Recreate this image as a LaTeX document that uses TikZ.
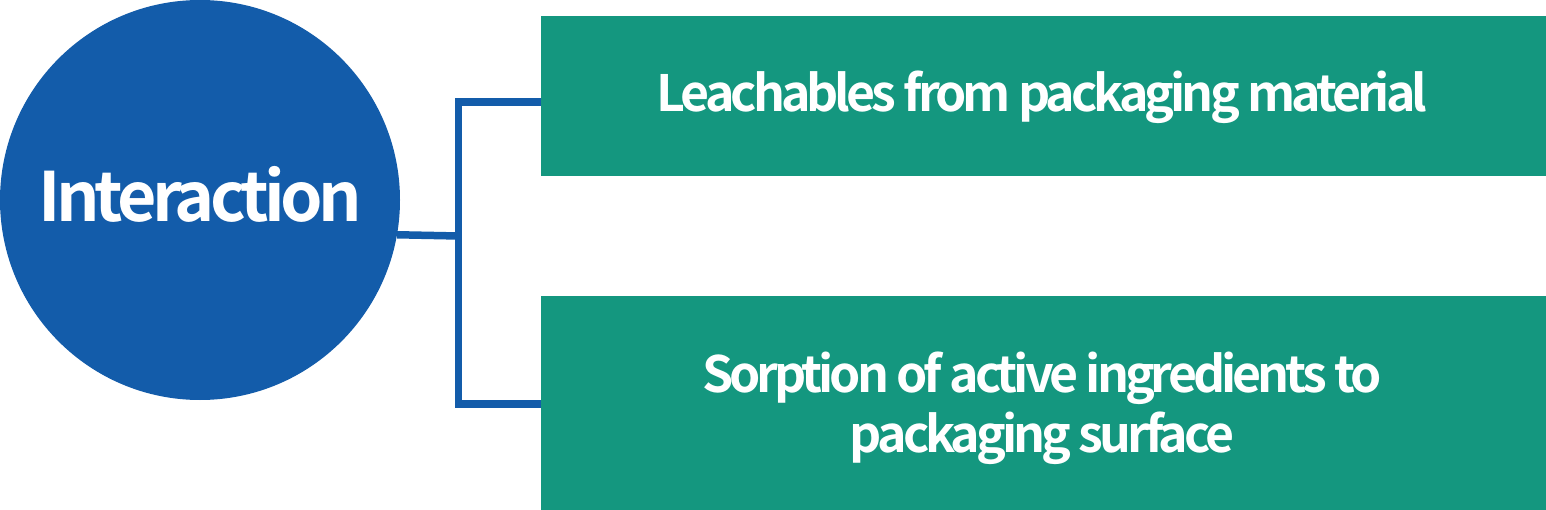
\documentclass[tikz,border=0pt]{standalone}
\usepackage{fontspec}
\newfontfamily\hubfont{Noto Sans CJK SC Bold}[LetterSpace=-7]
\newfontfamily\boxfont{Noto Sans CJK SC Bold}[LetterSpace=-8]
\definecolor{cblue}{HTML}{135CAA}
\definecolor{cgreen}{HTML}{14977F}
\begin{document}
\begin{tikzpicture}[x=1pt,y=-1pt,
  hub/.style={circle,fill=cblue,draw=none,minimum size=400pt,inner sep=0pt},
  leaf/.style={rectangle,fill=cgreen,draw=none,minimum width=1005pt,inner sep=0pt},
  link/.style={draw=cblue,line width=7.5pt},
  bigtxt/.style={text=white,font=\fontsize{68}{68}\hubfont,inner sep=0pt,anchor=base},
  boxtxt/.style={text=white,font=\fontsize{50}{50}\boxfont,inner sep=0pt,anchor=base}]
\useasboundingbox (0,0) rectangle (1546,510);
\node[hub] (c) at (200,200) {};
\node[leaf,minimum height=160pt] (t) at (1043.5,96) {};
\node[leaf,minimum height=214pt] (b) at (1043.5,403) {};
\coordinate (j) at (458.5,236);
\draw[link] (c.-10.37) -- (j);
\draw[link] ([yshift=-6pt]t.west) -| (j) |- ([yshift=-1pt]b.west);
\node[bigtxt] (ci) at (200,222) {Interaction};
\node[boxtxt] (tl) at (1042,111.5) {Leachables from packaging material};
\node[boxtxt] (bl1) at (1042,392) {Sorption of active ingredients to};
\node[boxtxt] (bl2) at (1042,452) {packaging surface};
\end{tikzpicture}
\end{document}
